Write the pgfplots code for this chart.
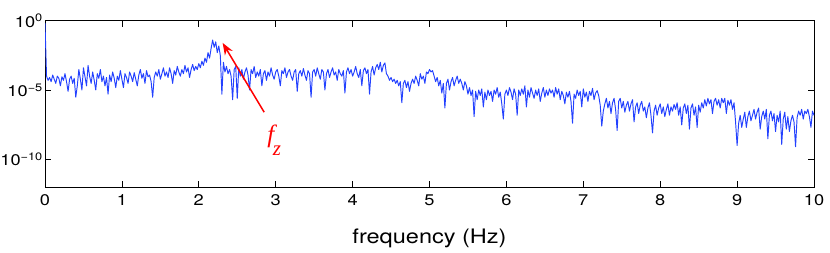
\documentclass[border=0pt]{standalone}
\usepackage{pgfplots}
\pgfplotsset{compat=1.18}
\usetikzlibrary{arrows.meta}
\usepackage{fontspec}
\setmainfont{TeX Gyre Heros}[FakeStretch=1.18]
\newfontfamily\tms{Liberation Serif}
\definecolor{lineblue}{RGB}{35,65,255}
\begin{document}
\begin{tikzpicture}
\begin{axis}[
 scale only axis, width=769bp, height=166.3bp,
 xmin=0, xmax=10, ymode=log, ymin=1e-12, ymax=1,
 xtick={0,1,2,3,4,5,6,7,8,9,10},
 ytick={1e-10,1e-5,1},
 yticklabels={10\textsuperscript{−10},10\textsuperscript{−5},10\textsuperscript{0}},
 yminorticks=false, xminorticks=false,
 major tick length=6.5bp,
 axis line style={line width=0.8bp},
 every tick/.style={black,line width=0.8bp},
 /pgf/number format/assume math mode=true,
 ticklabel style={font=\fontsize{15.5}{18}\selectfont},
 xticklabel style={yshift=-4.5bp},
 yticklabel style={inner xsep=0pt, xshift=-2bp},
 xlabel={frequency (Hz)},
 xlabel style={font=\fontsize{20}{22}\selectfont, at={(axis description cs:0.5,0)}, anchor=base, yshift=-56bp},
]
\addplot[color=lineblue, line width=0.95bp, line join=round, mark=none] coordinates {
(0,0.7)(0.02,1e-4)(0.04,5e-5)(0.06,8e-5)(0.08,4e-5)(0.1,1.2e-4)(0.12,6e-5)(0.14,3e-5)(0.16,1e-4)(0.18,7e-5)
(0.2,2e-5)(0.22,9e-5)(0.24,5e-5)(0.26,1.5e-4)(0.28,4e-5)(0.3,8e-6)(0.32,6e-5)(0.34,1e-4)(0.36,3e-5)(0.38,7e-5)
(0.4,3e-6)(0.42,2e-5)(0.44,3e-4)(0.46,6e-5)(0.48,1e-5)(0.5,4e-4)(0.52,9e-5)(0.54,2e-5)(0.56,6e-4)(0.58,1e-4)
(0.6,3e-5)(0.62,2e-4)(0.64,5e-5)(0.66,1e-5)(0.68,1.5e-4)(0.7,7e-5)(0.72,3e-4)(0.74,4e-5)(0.76,1e-4)(0.78,2e-5)
(0.8,8e-5)(0.82,5e-6)(0.84,1.2e-4)(0.86,4e-5)(0.88,2e-4)(0.9,7e-5)(0.92,1.5e-5)(0.94,1e-4)(0.96,5e-5)(0.98,2.5e-4)
(1,6e-5)(1.02,1.5e-5)(1.04,1.5e-4)(1.06,8e-5)(1.08,3e-5)(1.1,2e-4)(1.12,1e-4)(1.14,4e-5)(1.16,1.8e-4)(1.18,6e-5)
(1.2,2e-5)(1.22,1.2e-4)(1.24,3e-4)(1.26,7e-5)(1.28,1.5e-4)(1.3,3e-5)(1.32,2.5e-4)(1.34,9e-5)(1.36,1.2e-4)(1.38,4e-5)
(1.4,3e-6)(1.42,8e-5)(1.44,2e-4)(1.46,1e-4)(1.48,3e-4)(1.5,6e-5)(1.52,1.5e-4)(1.54,4e-4)(1.56,1e-4)(1.58,2e-4)
(1.6,8e-5)(1.62,4e-4)(1.64,1.5e-4)(1.66,3e-5)(1.68,2.5e-4)(1.7,1.2e-4)(1.72,5e-4)(1.74,2e-4)(1.76,1e-4)(1.78,3e-4)
(1.8,1.5e-4)(1.82,6e-4)(1.84,2e-4)(1.86,4e-4)(1.88,8e-5)(1.9,3e-4)(1.92,7e-4)(1.94,2.5e-4)(1.96,5e-4)(1.98,3e-4)
(2,8e-4)(2.02,4e-4)(2.04,1.2e-3)(2.06,6e-4)(2.08,2e-3)(2.1,1e-3)(2.12,5e-3)(2.14,2e-3)(2.16,1e-2)(2.18,4e-2)
(2.2,1.2e-2)(2.22,3e-2)(2.24,5e-3)(2.26,1.5e-2)(2.28,3e-3)(2.3,5e-6)(2.32,1e-3)(2.34,2e-4)(2.36,5e-4)(2.38,1.5e-4)
(2.4,3e-4)(2.42,1e-4)(2.44,2e-6)(2.46,3e-4)(2.48,5e-4)(2.5,2.5e-6)(2.52,4e-4)(2.54,1e-4)(2.56,3e-4)(2.58,6e-5)
(2.6,2e-4)(2.62,4e-4)(2.64,1.2e-4)(2.66,1e-5)(2.68,3e-4)(2.7,1.5e-4)(2.72,5e-4)(2.74,8e-5)(2.76,2e-4)(2.78,1e-4)
(2.8,3e-4)(2.82,2e-5)(2.84,1.5e-4)(2.86,2.5e-4)(2.88,5e-5)(2.9,2e-4)(2.92,1e-4)(2.94,4e-4)(2.96,1.2e-4)(2.98,6e-5)
(3,2e-4)(3.02,3e-4)(3.04,1e-4)(3.06,2e-5)(3.08,2.5e-4)(3.1,1.5e-4)(3.12,4e-4)(3.14,8e-5)(3.16,2e-4)(3.18,3e-4)
(3.2,1e-4)(3.22,5e-5)(3.24,2e-4)(3.26,3e-4)(3.28,8e-6)(3.3,1.5e-4)(3.32,2.5e-4)(3.34,1e-4)(3.36,3.5e-4)(3.38,1.2e-4)
(3.4,5e-5)(3.42,2.5e-4)(3.44,1.5e-4)(3.46,3e-6)(3.48,2e-4)(3.5,3e-4)(3.52,1e-4)(3.54,4e-4)(3.56,1.5e-4)(3.58,6e-5)
(3.6,3e-4)(3.62,2e-4)(3.64,1e-5)(3.66,1.5e-4)(3.68,3e-4)(3.7,8e-5)(3.72,2e-4)(3.74,4e-4)(3.76,1.2e-4)(3.78,2e-4)
(3.8,5e-5)(3.82,3e-4)(3.84,1.5e-4)(3.86,1e-4)(3.88,2.5e-4)(3.9,6e-6)(3.92,2e-4)(3.94,4e-4)(3.96,1.5e-4)(3.98,3e-4)
(4,1e-4)(4.02,2e-4)(4.04,5e-4)(4.06,1.5e-4)(4.08,8e-5)(4.1,3e-4)(4.12,2e-5)(4.14,2.5e-4)(4.16,4e-4)(4.18,1.5e-4)
(4.2,3e-4)(4.22,5e-6)(4.24,2e-4)(4.26,5e-4)(4.28,1.2e-4)(4.3,4e-4)(4.32,7e-4)(4.34,3e-4)(4.36,1e-3)(4.38,2e-4)
(4.4,6e-4)(4.42,9e-4)(4.44,1.5e-4)(4.46,1e-4)(4.48,5e-5)(4.5,8e-5)(4.52,4e-5)(4.54,6e-5)(4.56,3e-5)(4.58,5e-5)
(4.6,2e-5)(4.62,4e-5)(4.64,1.2e-6)(4.66,3e-5)(4.68,5e-5)(4.7,1.5e-5)(4.72,4e-5)(4.74,8e-6)(4.76,3e-5)(4.78,6e-5)
(4.8,3e-5)(4.82,1e-4)(4.84,5e-5)(4.86,2e-5)(4.88,1.5e-4)(4.9,6e-5)(4.92,1e-4)(4.94,3e-5)(4.96,2e-4)(4.98,1.5e-4)
(5,3e-4)(5.02,2e-4)(5.04,2.5e-4)(5.06,1e-4)(5.08,4e-5)(5.1,8e-5)(5.12,2e-5)(5.14,5e-5)(5.16,6e-6)(5.18,3e-5)
(5.2,5e-7)(5.22,3e-5)(5.24,6e-5)(5.26,1e-5)(5.28,4e-5)(5.3,8e-5)(5.32,2e-5)(5.34,5e-5)(5.36,1e-4)(5.38,3e-5)
(5.4,6e-5)(5.42,3e-5)(5.44,1e-5)(5.46,4e-5)(5.48,2e-5)(5.5,5e-6)(5.52,1.5e-5)(5.54,4e-6)(5.56,1e-5)(5.58,1.2e-7)
(5.6,8e-6)(5.62,2e-6)(5.64,1e-5)(5.66,4e-6)(5.68,1.2e-5)(5.7,6e-7)(5.72,7e-6)(5.74,2e-6)(5.76,1e-5)(5.78,4e-6)
(5.8,8e-6)(5.82,1.5e-6)(5.84,1e-5)(5.86,5e-6)(5.88,1.5e-5)(5.9,3e-6)(5.92,7e-6)(5.94,1e-6)(5.96,8e-8)(5.98,5e-6)
(6,1e-5)(6.02,4e-6)(6.04,1.5e-5)(6.06,7e-6)(6.08,2e-6)(6.1,1.2e-5)(6.12,5e-6)(6.14,1.5e-7)(6.16,1e-5)(6.18,4e-6)
(6.2,1.2e-5)(6.22,5e-6)(6.24,2e-5)(6.26,6e-7)(6.28,1e-5)(6.3,3e-6)(6.32,1.5e-5)(6.34,6e-6)(6.36,2.5e-6)(6.38,1e-5)
(6.4,4e-6)(6.42,1.2e-5)(6.44,1.5e-6)(6.46,6e-6)(6.48,1.5e-5)(6.5,3e-6)(6.52,1e-5)(6.54,4e-6)(6.56,1.2e-5)(6.58,6e-6)
(6.6,1e-5)(6.62,3e-6)(6.64,1.5e-5)(6.66,5e-6)(6.68,1.2e-5)(6.7,2e-6)(6.72,8e-6)(6.74,4e-6)(6.76,1e-6)(6.78,7e-6)
(6.8,3e-6)(6.82,8e-6)(6.84,1.5e-6)(6.86,4e-8)(6.88,5e-6)(6.9,2.5e-6)(6.92,1e-5)(6.94,4e-6)(6.96,8e-6)(6.98,6e-7)
(7,1.2e-5)(7.02,3e-6)(7.04,7e-6)(7.06,1.5e-6)(7.08,8e-6)(7.1,4e-6)(7.12,1.3e-5)(7.14,2e-6)(7.16,6e-6)(7.18,9e-6)
(7.2,4e-6)(7.22,8e-7)(7.24,2.5e-8)(7.26,3e-7)(7.28,1e-6)(7.3,2.5e-6)(7.32,5e-7)(7.34,1.5e-6)(7.36,2e-7)(7.38,1.2e-6)
(7.4,2.5e-6)(7.42,4e-7)(7.44,1.2e-8)(7.46,1.5e-6)(7.48,2.5e-6)(7.5,5e-7)(7.52,1.5e-6)(7.54,2.5e-7)(7.56,8e-7)(7.58,1.5e-6)
(7.6,3e-7)(7.62,1e-6)(7.64,2e-6)(7.66,5e-8)(7.68,6e-7)(7.7,1.2e-6)(7.72,2e-7)(7.74,8e-7)(7.76,1.5e-6)(7.78,3e-7)
(7.8,6e-7)(7.82,1e-7)(7.84,5e-7)(7.86,1.2e-6)(7.88,1.5e-7)(7.9,8e-9)(7.92,3e-7)(7.94,8e-7)(7.96,1.5e-7)(7.98,5e-7)
(8,1e-6)(8.02,2e-7)(8.04,6e-7)(8.06,1.2e-7)(8.08,4e-7)(8.1,1e-6)(8.12,1.5e-7)(8.14,6e-7)(8.16,3e-7)(8.18,9e-7)
(8.2,4e-7)(8.22,1.2e-6)(8.24,1.5e-7)(8.26,6e-7)(8.28,3e-8)(8.3,5e-7)(8.32,1e-6)(8.34,2e-7)(8.36,8e-7)(8.38,1.5e-8)
(8.4,5e-7)(8.42,1e-6)(8.44,1.5e-7)(8.46,6e-7)(8.48,2e-8)(8.5,8e-7)(8.52,2.5e-7)(8.54,1.2e-6)(8.56,5e-7)(8.58,2e-6)
(8.6,7e-7)(8.62,2.5e-6)(8.64,1e-6)(8.66,2e-6)(8.68,2e-7)(8.7,1.5e-6)(8.72,2.5e-6)(8.74,8e-7)(8.76,2e-6)(8.78,5e-7)
(8.8,2.5e-6)(8.82,1.2e-6)(8.84,2.5e-6)(8.86,2e-7)(8.88,1.8e-6)(8.9,8e-7)(8.92,2e-6)(8.94,4e-7)(8.96,1.2e-6)(8.98,5e-8)
(9,1e-9)(9.02,4e-8)(9.04,1.5e-7)(9.06,2e-8)(9.08,8e-8)(9.1,2.5e-7)(9.12,2e-8)(9.14,1.2e-7)(9.16,3e-7)(9.18,6e-8)
(9.2,1.5e-7)(9.22,4e-7)(9.24,8e-8)(9.26,2.5e-7)(9.28,5e-7)(9.3,1.5e-8)(9.32,1.2e-7)(9.34,3e-7)(9.36,8e-8)(9.38,4e-7)
(9.4,3e-9)(9.42,1.5e-7)(9.44,3e-7)(9.46,6e-8)(9.48,2e-7)(9.5,1e-8)(9.52,1.5e-7)(9.54,5e-8)(9.56,3e-7)(9.58,1.2e-9)
(9.6,8e-8)(9.62,2.5e-7)(9.64,1.5e-8)(9.66,1.2e-7)(9.68,1e-8)(9.7,6e-8)(9.72,1.5e-7)(9.74,5e-8)(9.76,8e-10)(9.78,1e-7)
(9.8,3e-7)(9.82,1.5e-7)(9.84,4e-7)(9.86,8e-8)(9.88,3e-7)(9.9,2e-7)(9.92,4e-7)(9.94,1.2e-7)(9.96,2e-8)(9.98,3e-7)
(10,1.5e-7)
};
\draw[red, line width=1.5bp, -{Stealth[length=12bp,width=9bp]}] (axis cs:2.85,2.5e-7) -- (axis cs:2.31,2.5e-2);
\node[red, anchor=base west, inner sep=0pt] at (axis cs:2.89,1.6e-9) {{\tms\itshape\fontsize{25}{28}\selectfont f}\kern-1.5bp\raisebox{-13bp}{\tms\itshape\fontsize{21}{24}\selectfont z}};
\coordinate (sw) at (rel axis cs:0,0);
\coordinate (ne) at (rel axis cs:1,1);
\end{axis}
\pgfresetboundingbox
\path[use as bounding box] ([xshift=-45bp,yshift=-66bp]sw) rectangle ([xshift=16bp,yshift=20.7bp]ne);
\end{tikzpicture}
\end{document}
